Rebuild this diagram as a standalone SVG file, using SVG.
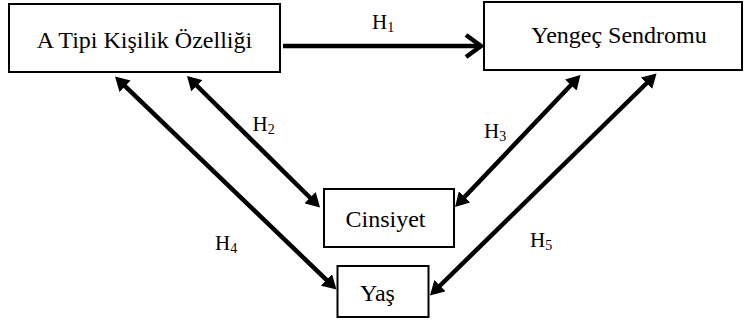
<svg xmlns="http://www.w3.org/2000/svg" width="745" height="324" viewBox="0 0 745 324">
<style>
.box{fill:#fff;stroke:#000;stroke-width:2}
.t{font-family:"Liberation Serif","Times New Roman",serif;font-size:24px;fill:#000;text-anchor:middle}
.h{font-family:"Liberation Serif","Times New Roman",serif;font-size:21px;fill:#000}
.s{font-size:14px}
.c{stroke:#000;stroke-width:4.5;fill:none}
</style>
<defs>
<marker id="tri" markerUnits="userSpaceOnUse" markerWidth="16" markerHeight="16" viewBox="0 0 16 16" refX="4" refY="8" orient="auto-start-reverse">
<path d="M0,0 L14,8 L0,16 z" fill="#000"/>
</marker>
<marker id="chev" markerUnits="userSpaceOnUse" markerWidth="24" markerHeight="28" viewBox="0 0 24 28" refX="18" refY="14" orient="auto">
<path d="M3,3 L18,14 L3,25" fill="none" stroke="#000" stroke-width="4.5"/>
</marker>
</defs>
<g id="node-a">
<rect class="box" x="9" y="4" width="271" height="68"/>
<text class="t" x="144.5" y="48.3">A Tipi Kişilik Özelliği</text>
</g>
<g id="node-yengec">
<rect class="box" x="484" y="2" width="258" height="68"/>
<text class="t" x="619" y="43.3">Yengeç Sendromu</text>
</g>
<g id="node-cinsiyet">
<rect class="box" x="324" y="189" width="130" height="58"/>
<text class="t" x="385.5" y="226.7">Cinsiyet</text>
</g>
<g id="node-yas">
<rect class="box" x="337.5" y="266" width="91" height="51"/>
<text class="t" x="377.5" y="301">Yaş</text>
</g>
<g id="connectors">
<line class="c" x1="283" y1="46" x2="481" y2="46" marker-end="url(#chev)"/>
<line class="c" x1="122.2" y1="83.4" x2="329.3" y2="282.6" marker-start="url(#tri)" marker-end="url(#tri)"/>
<line class="c" x1="194.1" y1="83" x2="312.9" y2="200.5" marker-start="url(#tri)" marker-end="url(#tri)"/>
<line class="c" x1="573.6" y1="82.2" x2="461.9" y2="199.8" marker-start="url(#tri)" marker-end="url(#tri)"/>
<line class="c" x1="649.4" y1="80.5" x2="437.1" y2="288.5" marker-start="url(#tri)" marker-end="url(#tri)"/>
</g>
<g id="labels">
<text class="h" x="372" y="29">H<tspan class="s" dy="3">1</tspan></text>
<text class="h" x="252.5" y="130.7">H<tspan class="s" dy="3">2</tspan></text>
<text class="h" x="484" y="137.5">H<tspan class="s" dy="3">3</tspan></text>
<text class="h" x="215" y="250">H<tspan class="s" dy="3">4</tspan></text>
<text class="h" x="530" y="246.7">H<tspan class="s" dy="3">5</tspan></text>
</g>
</svg>
